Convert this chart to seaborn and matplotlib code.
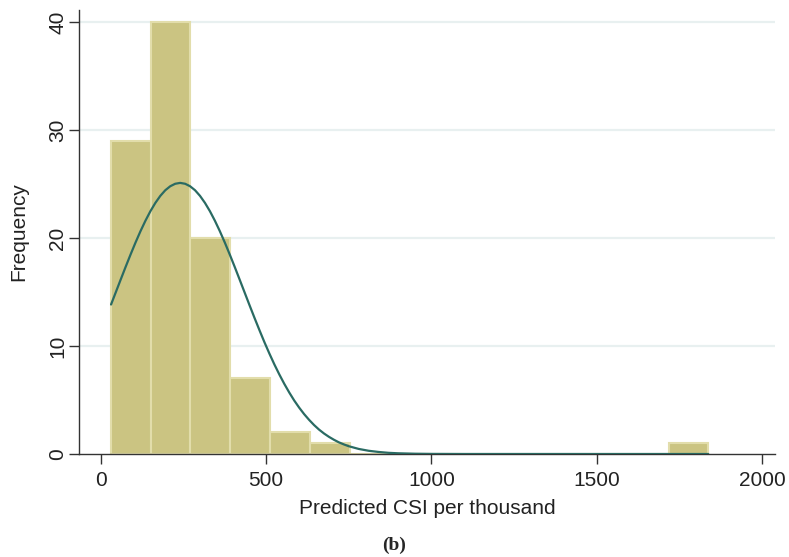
import matplotlib
matplotlib.use("Agg")
import matplotlib.pyplot as plt
import seaborn as sns

# bin edges and counts
bin_edges = [30, 150.5, 271, 391.5, 512, 632.5, 753, 873.5, 994, 1114.5,
             1235, 1355.5, 1476, 1596.5, 1717, 1837.5]
bin_counts = [29, 40, 20, 7, 2, 1, 0, 0, 0, 0, 0, 0, 0, 0, 1]
bin_mids = [(a + b) / 2 for a, b in zip(bin_edges[:-1], bin_edges[1:])]

# normal overlay, points
curve_x = [31, 45, 60, 75, 90, 105, 120, 135, 150, 165, 180, 195, 210, 225,
           240, 255, 270, 285, 300, 315, 330, 345, 360, 375, 390, 405, 420,
           435, 450, 465, 480, 495, 510, 525, 540, 555, 570, 585, 600, 615,
           630, 645, 660, 675, 690, 705, 720, 735, 750, 780, 810, 840, 870,
           900, 950, 1000, 1100, 1837]
curve_y = [13.84, 14.95, 16.14, 17.32, 18.47, 19.58, 20.63, 21.60, 22.48, 23.25,
           23.90, 24.42, 24.79, 25.02, 25.10, 25.02, 24.79, 24.42, 23.90, 23.25,
           22.48, 21.60, 20.63, 19.58, 18.47, 17.32, 16.14, 14.95, 13.76, 12.59,
           11.45, 10.34, 9.29, 8.29, 7.36, 6.49, 5.69, 4.95, 4.29, 3.69,
           3.16, 2.68, 2.26, 1.90, 1.59, 1.32, 1.08, 0.89, 0.72, 0.47, 0.30,
           0.19, 0.11, 0.066, 0.026, 0.01, 0.001, 0.0]

xticks = [0, 500, 1000, 1500, 2000]
yticks = [0, 10, 20, 30, 40]

sns.set_style("white")
plt.rcParams["font.family"] = ["Liberation Sans", "DejaVu Sans"]

fig = plt.figure(figsize=(7.89, 5.57), dpi=100)
ax = fig.add_axes([0.1001, 0.1849, 0.8822, 0.797])

for y in yticks[1:]:
    ax.axhline(y, color="#e8f0f0", lw=1.6, zorder=0)

sns.histplot(x=bin_mids, weights=bin_counts, bins=bin_edges, ax=ax,
             color="#cbc482", edgecolor="#e2ddab", linewidth=1.5, alpha=1.0,
             zorder=2)
sns.lineplot(x=curve_x, y=curve_y, ax=ax, color="#2a6b63", lw=1.6, zorder=3)

ax.set_xlim(-66, 2039)
ax.set_ylim(0, 41.1)
ax.set_xticks(xticks)
ax.set_yticks(yticks)
ax.tick_params(axis="both", direction="out", length=7, width=1, color="#333333",
               labelsize=15, labelcolor="#222222", bottom=True, left=True)
ax.tick_params(axis="x", pad=5)
ax.tick_params(axis="y", pad=1.5)
for lab in ax.get_yticklabels():
    lab.set_rotation(90)
    lab.set_va("center")

for side in ["top", "right"]:
    ax.spines[side].set_visible(False)
for side in ["left", "bottom"]:
    ax.spines[side].set_color("#333333")
    ax.spines[side].set_linewidth(1.0)

ax.set_xlabel("Predicted CSI per thousand", fontsize=15, color="#222222", labelpad=7)
ax.set_ylabel("Frequency", fontsize=15, color="#222222", labelpad=14)

fig.text(0.5, 0.006, "(b)", ha="center", va="bottom", fontsize=14,
         fontweight="bold", family=["Liberation Serif", "DejaVu Serif"])

fig.savefig("out.png", dpi=100)
